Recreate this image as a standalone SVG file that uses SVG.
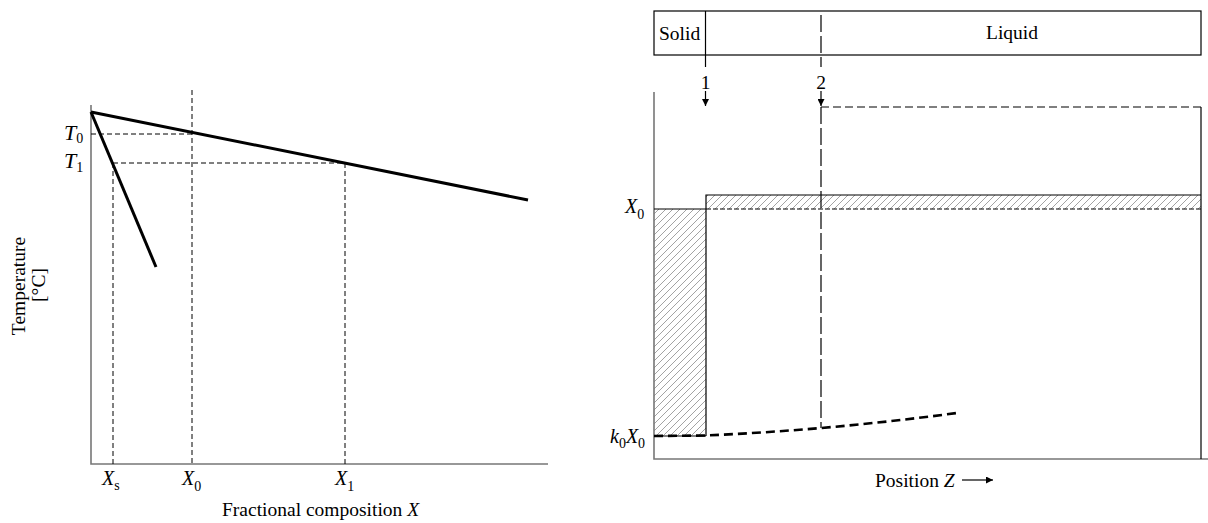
<svg xmlns="http://www.w3.org/2000/svg" width="1208" height="523" viewBox="0 0 1208 523">
<style>
text{font-family:"Liberation Serif","Times New Roman",serif;font-size:19.5px;fill:#000}
.it{font-style:italic}
.big{font-size:22px}
.var{font-size:20px}
.sub{font-size:14px;font-style:normal}
.axis{stroke:#777;stroke-width:1.6;fill:none}
.thick{stroke:#000;stroke-width:3;fill:none}
.dash{stroke:#000;stroke-width:1;stroke-dasharray:5,3;fill:none}
.thin{stroke:#000;stroke-width:1.2;fill:none}
</style>
<defs>
<pattern id="hatch" patternUnits="userSpaceOnUse" width="7" height="7">
<path d="M-1,8 L8,-1 M-4.5,4.5 L4.5,-4.5 M2.5,11.5 L11.5,2.5" stroke="#999" stroke-width="0.9"/>
</pattern>
<marker id="ah" viewBox="0 0 10 10" refX="10" refY="5" markerWidth="9" markerHeight="7" markerUnits="userSpaceOnUse" orient="auto">
<path d="M0,0 L10,5 L0,10 z" fill="#000"/>
</marker>
</defs>

<!-- LEFT: phase diagram -->
<g id="left-axes">
<path class="axis" d="M91,105 V464 H548"/>
</g>
<g id="left-guides">
<path class="dash" d="M91,134 H192"/>
<path class="dash" d="M113,163 H345"/>
<path class="dash" d="M192,90 V464"/>
<path class="dash" d="M113,163 V464"/>
<path class="dash" d="M345,163 V464"/>
</g>
<g id="left-curves">
<path class="thick" d="M91,112 L528,200"/>
<path class="thick" d="M91,112 L156,267"/>
</g>
<g id="left-labels">
<text class="it big" x="64" y="140">T<tspan class="sub" dy="3">0</tspan></text>
<text class="it big" x="64" y="168">T<tspan class="sub" dy="4">1</tspan></text>
<text class="it var" x="102" y="485">X<tspan class="sub" dy="5">s</tspan></text>
<text class="it var" x="182" y="485">X<tspan class="sub" dy="6">0</tspan></text>
<text class="it var" x="335" y="485">X<tspan class="sub" dy="6">1</tspan></text>
<text x="222" y="516">Fractional composition <tspan class="it">X</tspan></text>
<text transform="translate(25,286) rotate(-90)" text-anchor="middle">Temperature</text>
<text transform="translate(45,285) rotate(-90)" text-anchor="middle">[°C]</text>
</g>

<!-- RIGHT: solidification profile -->
<g id="phase-box">
<rect x="654" y="11" width="547" height="44" fill="none" stroke="#000" stroke-width="1.2"/>
<line x1="705.5" y1="11" x2="705.5" y2="55" stroke="#000" stroke-width="1.2"/>
<text x="659" y="40">Solid</text>
<text x="1012" y="39" text-anchor="middle">Liquid</text>
</g>
<g id="hatched">
<rect x="654" y="209" width="52" height="227" fill="url(#hatch)"/>
<rect x="706" y="195" width="495" height="14" fill="url(#hatch)"/>
</g>
<g id="right-axes">
<path class="axis" d="M654,92 V459 H1208"/>
<path class="thin" d="M1201,107 V459"/>
</g>
<g id="right-lines">
<path class="thin" d="M654,209 H706 M706,436 V195 H1201"/>
<path d="M706,209 H1201" stroke="#000" stroke-width="1" stroke-dasharray="5,2" fill="none"/>
<path d="M821,107 H1201" stroke="#000" stroke-width="1.2" stroke-dasharray="8,4" fill="none"/>
<path d="M654,436 H706" stroke="#000" stroke-width="1.2" fill="none"/>
<path d="M654,436 L706,435.5 Q830,430 957,413" stroke="#000" stroke-width="2.6" stroke-dasharray="9,5" fill="none"/>
</g>
<g id="markers">
<path d="M705.5,55 V67" stroke="#000" stroke-width="1.2"/>
<path d="M705.5,91 V106" stroke="#000" stroke-width="1.2" marker-end="url(#ah)"/>
<text x="705.5" y="89" text-anchor="middle">1</text>
<path d="M821,15 V67" stroke="#000" stroke-width="1.2" stroke-dasharray="17,4"/>
<path d="M821,91 V106" stroke="#000" stroke-width="1.2" marker-end="url(#ah)"/>
<path d="M821,107 V428" stroke="#000" stroke-width="1.2" stroke-dasharray="17,4"/>
<text x="821" y="89" text-anchor="middle">2</text>
</g>
<g id="right-labels">
<text class="it var" x="625" y="213">X<tspan class="sub" dy="6">0</tspan></text>
<text class="it var" x="610" y="443">k<tspan class="sub" dy="5">0</tspan><tspan dy="-5">X</tspan><tspan class="sub" dy="5">0</tspan></text>
<text x="875" y="487">Position <tspan class="it">Z</tspan></text>
<path d="M962,480 H993" stroke="#000" stroke-width="1.2" marker-end="url(#ah)"/>
</g>
</svg>
